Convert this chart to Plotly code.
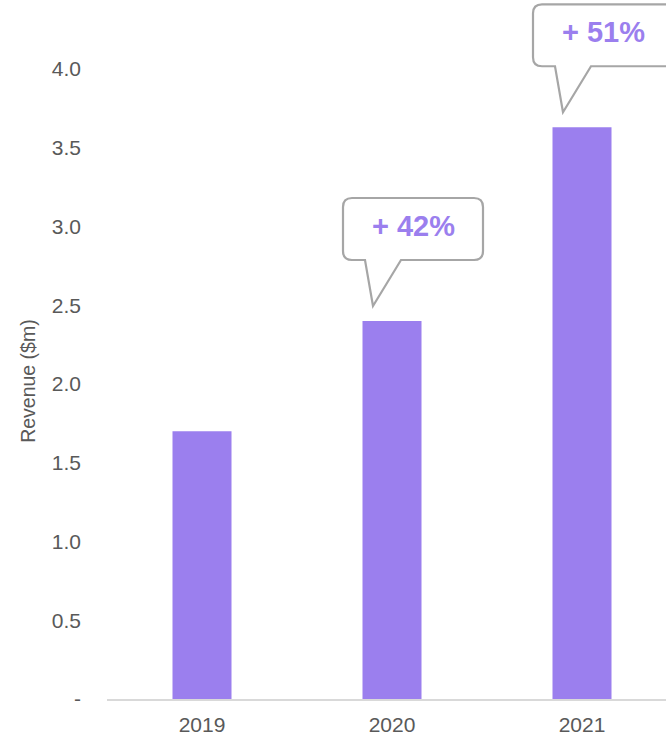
import plotly.graph_objects as go

years = ["2019", "2020", "2021"]
revenue = [1.70, 2.40, 3.63]
growth_labels = [None, "+ 42%", "+ 51%"]
ytick_vals = [0, 0.5, 1.0, 1.5, 2.0, 2.5, 3.0, 3.5, 4.0]
ytick_text = ["-", "0.5", "1.0", "1.5", "2.0", "2.5", "3.0", "3.5", "4.0"]
y_title = "Revenue ($m)"

W, H = 666, 737
ML, MR, MT, MB = 107, 0, 0, 38
plot_w = W - ML - MR
plot_h = H - MT - MB
px_per_cat = 190.0
x_range = [-0.5, -0.5 + plot_w / px_per_cat]
px_per_unit = 157.5
y_range = [0, plot_h / px_per_unit]

bar_color = "#9B7FEE"
text_color = "#595959"
FONT = "Liberation Sans, Arial"

fig = go.Figure()
fig.add_trace(go.Bar(x=list(range(len(years))), y=revenue, marker_color=bar_color,
                     marker_line_width=0, width=59 / px_per_cat, hoverinfo="skip"))

dx = 1 / px_per_cat
dy = 1 / px_per_unit
shapes = []
annotations = []
for i, (v, lab) in enumerate(zip(revenue, growth_labels)):
    if not lab:
        continue
    tx = i - 0.1
    ty = v + 15 * dy
    L = tx - 30 * dx
    R = tx + 110 * dx
    B = ty + 46 * dy
    T = ty + 108 * dy
    r = 9
    rx, ry = r * dx, r * dy
    bl_tail = tx - 8 * dx
    br_tail = tx + 28 * dx
    path = (
        f"M {tx},{ty} L {bl_tail},{B} L {L+rx},{B} Q {L},{B} {L},{B+ry} "
        f"L {L},{T-ry} Q {L},{T} {L+rx},{T} L {R-rx},{T} Q {R},{T} {R},{T-ry} "
        f"L {R},{B+ry} Q {R},{B} {R-rx},{B} L {br_tail},{B} Z"
    )
    shapes.append(dict(type="path", path=path, xref="x", yref="y",
                       line=dict(color="#A6A6A6", width=2.2), fillcolor="white", layer="above"))
    annotations.append(dict(x=(L + R) / 2, y=(B + T) / 2 + 3 * dy, xref="x", yref="y", text=f"<b>{lab}</b>",
                            showarrow=False, font=dict(family=FONT, size=29, color=bar_color)))

# y-axis title placed as rotated annotation (centered lower than plot middle, as in reference)
annotations.append(dict(x=-(107 - 28) / plot_w, xref="paper", y=2.02, yref="y", text=y_title,
                        textangle=-90, showarrow=False, xanchor="center", yanchor="middle",
                        font=dict(family=FONT, size=19.5, color=text_color)))

fig.update_layout(
    width=W, height=H,
    margin=dict(l=ML, r=MR, t=MT, b=MB, pad=0),
    paper_bgcolor="white", plot_bgcolor="white",
    showlegend=False,
    font=dict(family=FONT, size=21, color=text_color),
    shapes=shapes, annotations=annotations,
    xaxis=dict(range=x_range, tickmode="array", tickvals=list(range(len(years))), ticktext=years,
               showgrid=False, zeroline=False, showline=True, linecolor="#D9D9D9", linewidth=2,
               ticks="", ticklabelstandoff=6, tickfont=dict(family=FONT, size=21, color=text_color),
               fixedrange=True),
    yaxis=dict(range=y_range, tickmode="array", tickvals=ytick_vals, ticktext=ytick_text,
               showgrid=False, zeroline=False, showline=False, ticks="",
               ticklabelstandoff=25,
               tickfont=dict(family=FONT, size=21, color=text_color),
               fixedrange=True),
)
fig.write_html("out.html")
